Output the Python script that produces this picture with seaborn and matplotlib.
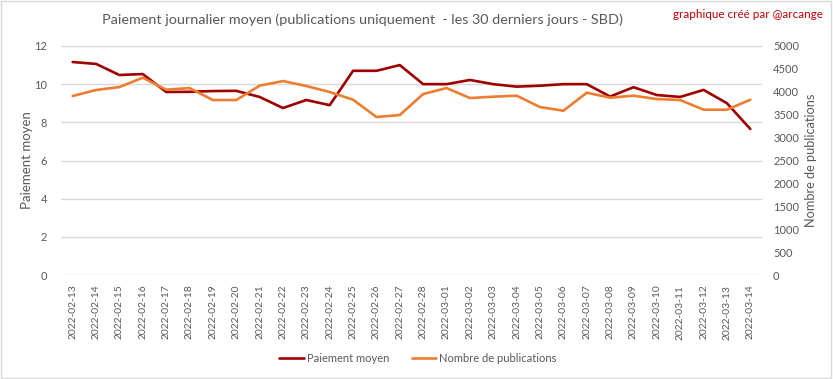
import matplotlib
matplotlib.use("Agg")
import matplotlib.pyplot as plt
import seaborn as sns
import pandas as pd
from matplotlib.patches import Rectangle

dates = ["2022-02-13", "2022-02-14", "2022-02-15", "2022-02-16", "2022-02-17",
         "2022-02-18", "2022-02-19", "2022-02-20", "2022-02-21", "2022-02-22",
         "2022-02-23", "2022-02-24", "2022-02-25", "2022-02-26", "2022-02-27",
         "2022-02-28", "2022-03-01", "2022-03-02", "2022-03-03", "2022-03-04",
         "2022-03-05", "2022-03-06", "2022-03-07", "2022-03-08", "2022-03-09",
         "2022-03-10", "2022-03-11", "2022-03-12", "2022-03-13", "2022-03-14"]
paiement_moyen = [11.16, 11.06, 10.48, 10.53, 9.59, 9.60, 9.64, 9.65, 9.33, 8.75,
                  9.17, 8.90, 10.70, 10.70, 11.00, 10.00, 10.00, 10.22, 10.00, 9.87,
                  9.92, 10.00, 10.00, 9.35, 9.84, 9.43, 9.33, 9.70, 9.00, 7.65]
nombre_publications = [3908, 4039, 4104, 4308, 4046, 4082, 3820, 3820, 4133, 4235,
                       4126, 3995, 3827, 3449, 3493, 3951, 4082, 3864, 3893, 3915,
                       3667, 3587, 3980, 3871, 3915, 3842, 3820, 3609, 3609, 3827]
left_ticks = [0, 2, 4, 6, 8, 10, 12]
right_ticks = [0, 500, 1000, 1500, 2000, 2500, 3000, 3500, 4000, 4500, 5000]

sns.set_theme(style="white")
plt.rcParams['font.family'] = ['Lato', 'DejaVu Sans']

df = pd.DataFrame({"date": dates, "pos": range(len(dates)),
                   "paiement": paiement_moyen, "nombre": nombre_publications})

DARK = "#9E0000"
ORANGE = "#ED7D31"
TXT = "#595959"
GRID = "#D9D9D9"

fig = plt.figure(figsize=(8.33, 3.79), dpi=100)
ax = fig.add_axes([61/833, 1-275/379, (762-61)/833, (275-46)/379])
ax2 = ax.twinx()

sns.lineplot(data=df, x="pos", y="paiement", ax=ax, color=DARK, linewidth=1.9,
             label="Paiement moyen", legend=False)
sns.lineplot(data=df, x="pos", y="nombre", ax=ax2, color=ORANGE, linewidth=1.9,
             label="Nombre de publications", legend=False)

ax.set_xlim(-0.5, len(dates) - 0.5)
ax.set_ylim(0, 12)
ax2.set_ylim(0, 5000)
ax.set_yticks(left_ticks)
ax2.set_yticks(right_ticks)
ax.set_xticks(range(len(dates)))
ax.set_xticklabels(dates, rotation=90, fontsize=7.4, color=TXT)
ax.tick_params(axis='y', labelsize=8, colors=TXT, length=0, pad=10)
ax2.tick_params(axis='y', labelsize=8, colors=TXT, length=0, pad=8)
ax.tick_params(axis='x', length=0, pad=7)
ax.grid(axis='y', color=GRID, linewidth=1)
ax.set_axisbelow(True)
for a in (ax, ax2):
    for s in a.spines.values():
        s.set_visible(False)

ax.set_xlabel("")
ax.set_ylabel("Paiement moyen", fontsize=9.5, color=TXT, labelpad=1)
ax2.set_ylabel("Nombre de publications", fontsize=9.2, color=TXT, labelpad=4)

fig.text(362/833, 1-20/379, "Paiement journalier moyen (publications uniquement  - les 30 derniers jours - SBD)",
         ha="center", va="center", fontsize=10.4, color=TXT)
fig.text(823/833, 1-14/379, "graphique créé par @arcange", ha="right", va="center",
         fontsize=8.4, color="#C00000")

h1, l1 = ax.get_legend_handles_labels()
h2, l2 = ax2.get_legend_handles_labels()
fig.legend(h1 + h2, l1 + l2, loc="center", bbox_to_anchor=(418/833, 1-358/379),
           ncol=2, frameon=False, fontsize=8, labelcolor=TXT, handlelength=2.2,
           columnspacing=2.0, handletextpad=0.3)

fig.patches.append(Rectangle((0.001, 0.002), 0.997, 0.995, transform=fig.transFigure,
                             fill=False, edgecolor=GRID, linewidth=1))

fig.savefig("out.png", dpi=100)
